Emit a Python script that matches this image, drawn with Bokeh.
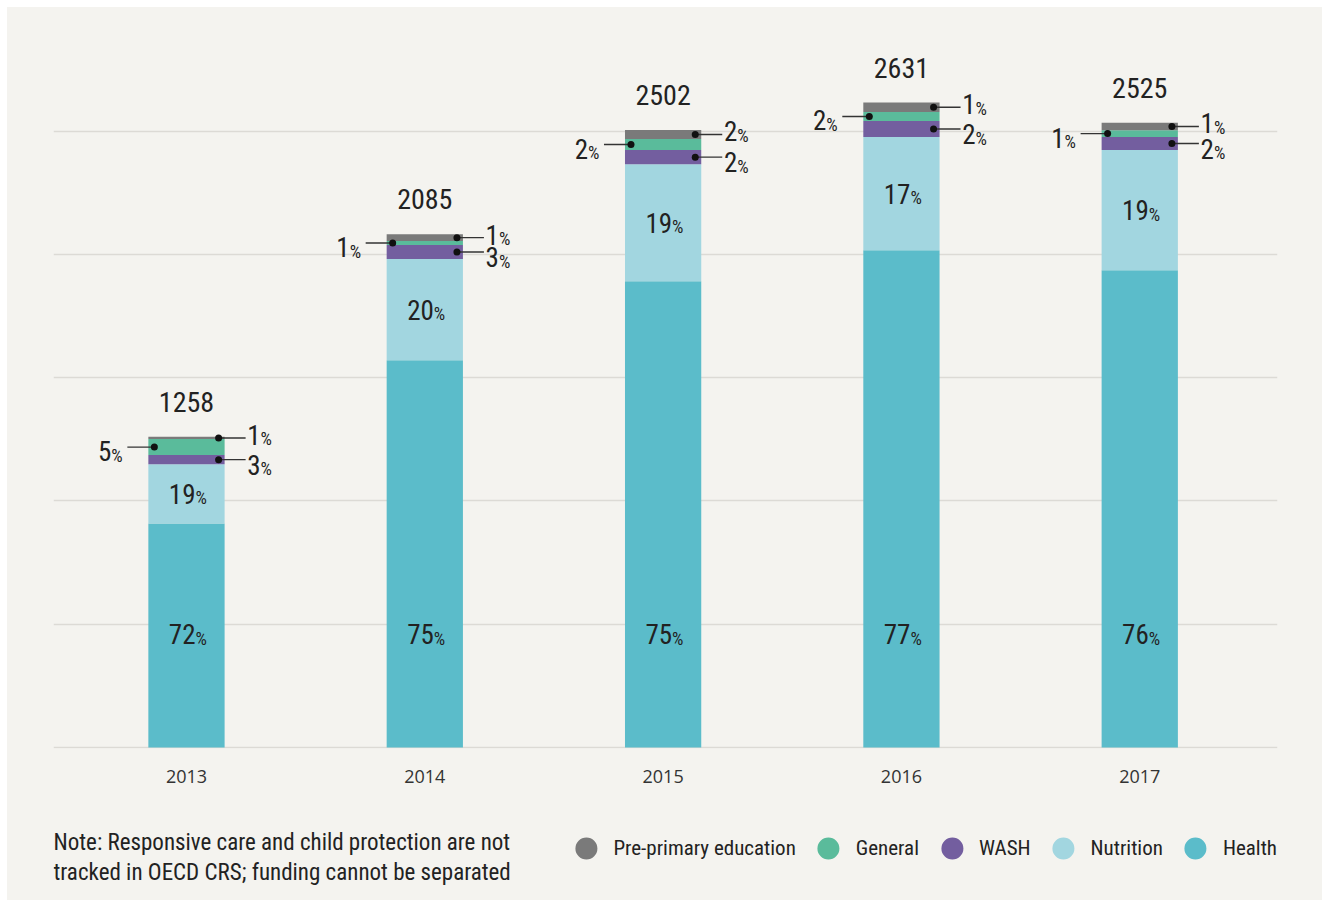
from bokeh.plotting import figure
from bokeh.layouts import column
from bokeh.models import Range1d, Grid, FixedTicker, Legend, LegendItem, Label, ColumnDataSource
from bokeh.core.properties import value
from bokeh.embed import file_html
from bokeh.resources import INLINE

# ---------------- data ----------------
years = ["2013", "2014", "2015", "2016", "2017"]
totals = [1258, 2085, 2502, 2631, 2525]
health = [909, 1571, 1891, 2017, 1936]
nutrition = [240, 410, 475, 459, 487]
wash = [37, 57, 57, 65, 53]
general = [65, 16, 45, 37, 28]
preprimary = [9, 28, 37, 38, 30]
pct_health = [72, 75, 75, 77, 76]
pct_nutrition = [19, 20, 19, 17, 19]
pct_wash = [3, 3, 2, 2, 2]
pct_general = [5, 1, 2, 2, 1]
pct_preprimary = [1, 1, 2, 1, 1]
grid_values = [0, 500, 1000, 1500, 2000, 2500]
legend_names = ["Pre-primary education", "General", "WASH", "Nutrition", "Health"]
note_lines = ["Note: Responsive care and child protection are not",
              "tracked in OECD CRS; funding cannot be separated"]

# ---------------- style ----------------
BG = "#f4f3ef"
C_HEALTH = "#5bbcca"
C_NUTR = "#a2d6e0"
C_WASH = "#735e9f"
C_GEN = "#5abb9b"
C_PRE = "#7a7a7a"
TXT = "#222222"
FONT = "'Liberation Sans Narrow', 'Roboto Condensed', 'DejaVu Sans Condensed', sans-serif"

W = 1315
H_MAIN, H_FOOT = 800, 93
BL, BR, BT, BB = 46, 45, 25, 59
X0, X1 = -0.558, 4.578
Y0, Y1 = -4, 2900
FRAME_W = W - BL - BR
UPX = (X1 - X0) / FRAME_W      # data units per screen pixel (x)
BW = 0.32
HEALTH_LABEL_Y = 455

xs = list(range(len(years)))

p = figure(width=W, height=H_MAIN, x_range=Range1d(X0, X1), y_range=Range1d(Y0, Y1),
           output_backend="svg", toolbar_location=None, y_axis_location=None,
           min_border_left=BL, min_border_right=BR, min_border_top=BT, min_border_bottom=BB,
           background_fill_color=BG, border_fill_color=BG, outline_line_color=None)
p.grid.visible = False
p.add_layout(Grid(dimension=1, ticker=FixedTicker(ticks=grid_values),
                  grid_line_color="#dcdad5", grid_line_width=1.5))

ax = p.xaxis[0]
ax.ticker = FixedTicker(ticks=xs)
ax.major_label_overrides = {i: y for i, y in zip(xs, years)}
ax.axis_line_color = None
ax.major_tick_line_color = None
ax.minor_tick_line_color = None
ax.major_tick_out = 0
ax.major_tick_in = 0
ax.major_label_standoff = 21
ax.major_label_text_font = "Open Sans"
ax.major_label_text_font_size = "18px"
ax.major_label_text_color = "#333333"

src = ColumnDataSource(dict(x=xs, health=health, nutrition=nutrition, wash=wash,
                            general=general, preprimary=preprimary))
p.vbar_stack(["health", "nutrition", "wash", "general", "preprimary"], x="x", width=BW,
             fill_color=[C_HEALTH, C_NUTR, C_WASH, C_GEN, C_PRE], line_color=None, source=src)

# stack geometry derived from the data
top_h = health
top_n = [a + b for a, b in zip(top_h, nutrition)]
top_w = [a + b for a, b in zip(top_n, wash)]
top_g = [a + b for a, b in zip(top_w, general)]
top_p = [a + b for a, b in zip(top_g, preprimary)]
mid_n = [a + b / 2 for a, b in zip(top_h, nutrition)]
mid_w = [a + b / 2 for a, b in zip(top_n, wash)]
mid_g = [a + b / 2 for a, b in zip(top_w, general)]
mid_p = [a + b / 2 for a, b in zip(top_g, preprimary)]
xr = [x + BW / 2 for x in xs]
xl = [x - BW / 2 for x in xs]

BIG = "27px"
SMALL = "18px"
TOT = "28px"
PCT_DROP = 4   # px: small "%" sits on the digits' baseline

def pct_label(x, y, nums, anchor_px, yoff):
    p.text(x=x, y=y, text=[str(v) for v in nums], text_align="right", text_baseline="middle",
           x_offset=anchor_px, y_offset=yoff, text_font=value(FONT), text_font_size=BIG,
           text_color=TXT)
    p.text(x=x, y=y, text=["%"] * len(nums), text_align="left", text_baseline="middle",
           x_offset=anchor_px, y_offset=yoff + PCT_DROP, text_font=value(FONT),
           text_font_size=SMALL, text_color=TXT)

# totals
p.text(x=xs, y=top_p, text=[str(t) for t in totals], text_align="center",
       text_baseline="middle", y_offset=-35, text_font=value(FONT),
       text_font_size=TOT, text_color=TXT)

# inside labels
pct_label(xs, [HEALTH_LABEL_Y] * len(xs), pct_health, 9, -1)
pct_label(xs, mid_n, pct_nutrition, 9, 0)

# leader lines + dots
LINE_C = "#333333"
p.segment(x0=[x - 6 * UPX for x in xr], y0=mid_p, x1=[x + 21 * UPX for x in xr], y1=mid_p,
          line_color=LINE_C, line_width=1.4)
p.segment(x0=[x - 6 * UPX for x in xr], y0=mid_w, x1=[x + 21 * UPX for x in xr], y1=mid_w,
          line_color=LINE_C, line_width=1.4)
p.segment(x0=[x + 6 * UPX for x in xl], y0=mid_g, x1=[x - 21 * UPX for x in xl], y1=mid_g,
          line_color=LINE_C, line_width=1.4)
p.scatter(x=[x - 6 * UPX for x in xr] * 2, y=mid_p + mid_w, size=7, fill_color="#111111",
          line_color=None)
p.scatter(x=[x + 6 * UPX for x in xl], y=mid_g, size=7, fill_color="#111111", line_color=None)

# side labels
pct_label(xr, mid_p, pct_preprimary, 36, -3)
pct_label(xr, mid_w, pct_wash, 36, 5)
pct_label(xl, mid_g, pct_general, -37, 4)

# ---------------- footer: note + legend ----------------
foot = figure(width=W, height=H_FOOT, x_range=Range1d(0, 1), y_range=Range1d(0, 1),
              output_backend="svg", toolbar_location=None, x_axis_location=None,
              y_axis_location=None, min_border_left=BL, min_border_right=BR,
              min_border_top=0, min_border_bottom=0, background_fill_color=BG,
              border_fill_color=BG, outline_line_color=None)
foot.grid.visible = False

items = []
for name, col in zip(legend_names, [C_PRE, C_GEN, C_WASH, C_NUTR, C_HEALTH]):
    r = foot.scatter(x=[float("nan")], y=[float("nan")], marker="circle", size=22,
                     fill_color=col, line_color=None)
    items.append(LegendItem(label=name, renderers=[r]))
legend = Legend(items=items, orientation="horizontal", location="top_right",
                glyph_width=55, glyph_height=82, label_standoff=0, spacing=5,
                padding=0, margin=0, background_fill_alpha=0, border_line_color=None,
                label_text_font=FONT, label_text_font_size="21px", label_text_color=TXT)
foot.add_layout(legend)

for i, line in enumerate(note_lines):
    foot.add_layout(Label(x=0, y=58 - 30 * i, x_units="screen", y_units="screen", text=line,
                          text_font=FONT, text_font_size="23px", text_color=TXT,
                          text_baseline="alphabetic"))

layout = column(p, foot, spacing=0, margin=(7, 0, 0, 7),
                styles={"background-color": BG})
open("out.html", "w").write(file_html(layout, INLINE))
